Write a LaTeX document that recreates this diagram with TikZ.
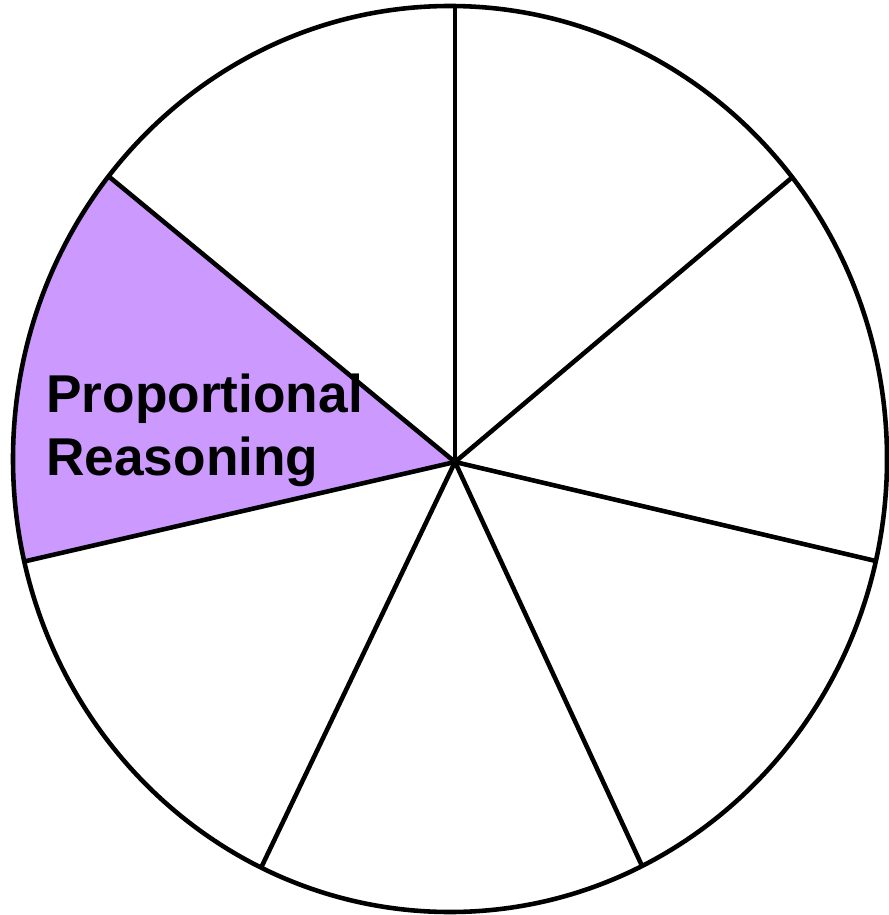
\documentclass[tikz,border=0pt]{standalone}
\usepackage{fontspec}
\setmainfont{Liberation Sans}
\usetikzlibrary{calc}
\definecolor{sectorpurple}{RGB}{204,153,255}

\begin{document}
\begin{tikzpicture}[x=0.02cm, y=-0.02cm,
  wheel/.style={line width=2.6pt, line join=round},
  sectorlabel/.style={font=\bfseries\fontsize{30.3}{35.5}\selectfont, align=left, inner sep=0pt}]
\useasboundingbox (0,0) rectangle (888,915);
\coordinate (hub) at (455,462);
% spoke directions (rim points)
\coordinate (s1) at (455,5);
\coordinate (s2) at (795,175);
\coordinate (s3) at (880,562);
\coordinate (s4) at (643,868);
\coordinate (s5) at (260,870);
\coordinate (s6) at (22,562);
\coordinate (s7) at (107,175);
\begin{scope}
  \clip (450,459) ellipse [x radius=437, y radius=453];
  \fill[sectorpurple] (hub) -- ($(hub)!1.5!(s7)$) -- ($(hub)!1.5!(s6)$) -- cycle;
  \foreach \s in {s1,s2,s3,s4,s5,s6,s7}
    \draw[wheel] (hub) -- ($(hub)!1.5!(\s)$);
\end{scope}
\draw[wheel] (450,459) ellipse [x radius=437, y radius=453];
\node[sectorlabel, anchor=north west] (prlabel) at (46,374) {Proportional\\Reasoning};
\end{tikzpicture}
\end{document}
